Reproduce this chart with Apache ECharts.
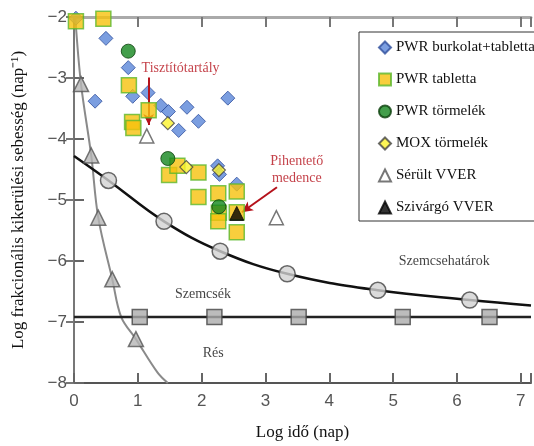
<!DOCTYPE html>
<html>
<head>
<meta charset="utf-8">
<script src="https://cdn.jsdelivr.net/npm/echarts@6/dist/echarts.min.js"></script>
<style>
  html, body { margin: 0; padding: 0; background: #fff; }
  #chart { width: 534px; height: 446px; }
</style>
</head>
<body>
<div id="chart"></div>
<script>
// Measured release points: [log time (days), log fractional release rate (1/day)]
const pwrCladPellet = [
  [0.03, -2.02], [0.50, -2.35], [0.85, -2.83], [0.33, -3.38], [0.92, -3.30],
  [1.16, -3.24], [1.36, -3.45], [1.48, -3.55], [1.77, -3.48], [1.95, -3.71],
  [1.64, -3.86], [2.41, -3.33], [2.25, -4.44], [2.28, -4.58], [2.55, -4.74]
];
const pwrPellet = [
  [0.03, -2.07], [0.46, -2.03], [0.86, -3.12], [1.17, -3.53], [0.91, -3.72],
  [0.93, -3.82], [1.49, -4.59], [1.62, -4.44], [1.95, -4.55], [1.95, -4.95],
  [2.26, -4.89], [2.55, -4.86], [2.27, -5.21], [2.26, -5.35], [2.55, -5.20],
  [2.55, -5.53]
];
const pwrDebris = [[0.85, -2.56], [1.47, -4.32], [2.27, -5.11]];
const moxDebris = [[1.47, -3.74], [1.76, -4.46], [2.27, -4.51]];
const damagedVver = [[1.14, -3.95], [3.17, -5.29]];
const leakingVver = [[2.55, -5.22]];

// Model curves: gap (Rés), grains (Szemcsék), grain boundaries (Szemcsehatárok)
const gapCurve = [
  [0.02, -2.0], [0.11, -3.1], [0.27, -4.27], [0.38, -5.29], [0.60, -6.30],
  [0.74, -6.92], [0.97, -7.28], [1.31, -7.83], [1.47, -8.0]
];
const gapMarkers = [[0.11, -3.1], [0.27, -4.27], [0.38, -5.29], [0.60, -6.30], [0.97, -7.28]];

const boundaryCurve = [
  [0.0, -4.28], [0.54, -4.68], [1.41, -5.35], [2.29, -5.84], [3.34, -6.21],
  [4.76, -6.48], [6.20, -6.64], [7.16, -6.73]
];
const boundaryMarkers = [[0.54, -4.68], [1.41, -5.35], [2.29, -5.84], [3.34, -6.21], [4.76, -6.48], [6.20, -6.64]];

const grainLevel = -6.92;
const grainLine = [[0.0, grainLevel], [7.16, grainLevel]];
const grainMarkers = [[1.03, grainLevel], [2.20, grainLevel], [3.52, grainLevel], [5.15, grainLevel], [6.51, grainLevel]];

// Region labels and callouts
const regionLabels = [
  { name: 'Szemcsék', value: [2.02, -6.55] },
  { name: 'Rés', value: [2.18, -7.52] },
  { name: 'Szemcsehatárok', value: [5.80, -6.00] }
];
const calloutLabels = [
  { name: 'Tisztítótartály', value: [1.67, -2.84] },
  { name: 'Pihentető\nmedence', value: [3.49, -4.50] }
];
const calloutArrows = [
  [[1.17, -2.99], [1.17, -3.77]],
  [[3.18, -4.79], [2.63, -5.20]]
];

const xTicks = { min: 0, max: 7.16, interval: 1 };
const yTicks = { min: -8, max: -2, interval: 1 };

const serif = 'Liberation Serif';
const sans = 'Liberation Sans';
const red = '#b5121b';

function fmt(v) {
  if (Math.abs(v - Math.round(v)) > 1e-6) return '';
  return v < 0 ? '\u2212' + Math.abs(v) : String(v);
}

const chart = echarts.init(document.getElementById('chart'));

const baseX = {
  type: 'value', min: xTicks.min, max: xTicks.max, interval: xTicks.interval,
  splitLine: { show: false }
};
const baseY = {
  type: 'value', min: yTicks.min, max: yTicks.max, interval: yTicks.interval,
  splitLine: { show: false }
};

const option = {
  animation: false,
  backgroundColor: '#fff',
  grid: { left: 74, right: 0, top: 17, bottom: 52 },
  xAxis: [
    Object.assign({}, baseX, {
      position: 'bottom',
      axisLine: { show: true, lineStyle: { color: '#555', width: 2 } },
      axisTick: { inside: true, length: 10, lineStyle: { color: '#666', width: 2 } },
      axisLabel: { color: '#555', fontFamily: sans, fontSize: 17, margin: 10, formatter: fmt },
      name: 'Log idő (nap)', nameLocation: 'middle', nameGap: 41,
      nameTextStyle: { fontFamily: serif, fontSize: 17, color: '#111' }
    }),
    Object.assign({}, baseX, {
      position: 'top',
      axisLine: { show: true, lineStyle: { color: '#aaa', width: 3 } },
      axisTick: { inside: true, length: 10, lineStyle: { color: '#777', width: 2 } },
      axisLabel: { show: false }
    })
  ],
  yAxis: [
    Object.assign({}, baseY, {
      position: 'left',
      axisLine: { show: true, lineStyle: { color: '#555', width: 2 } },
      axisTick: { inside: true, length: 10, lineStyle: { color: '#666', width: 2 } },
      axisLabel: { color: '#555', fontFamily: sans, fontSize: 17, margin: 7, formatter: fmt },
      name: 'Log frakcionális kikerülési sebesség (nap\u207B\u00B9)',
      nameLocation: 'middle', nameGap: 47, nameRotate: 90,
      nameTextStyle: { fontFamily: serif, fontSize: 17, color: '#111' }
    }),
    Object.assign({}, baseY, {
      position: 'right',
      axisLine: { show: true, lineStyle: { color: '#777', width: 2 } },
      axisTick: { inside: true, length: 8, lineStyle: { color: '#777', width: 2 } },
      axisLabel: { show: false }
    })
  ],
  legend: {
    data: ['PWR burkolat+tabletta', 'PWR tabletta', 'PWR törmelék', 'MOX törmelék', 'Sérült VVER', 'Szivárgó VVER'],
    orient: 'vertical',
    left: 359, top: 32,
    padding: [8, 10, 6, 19],
    itemWidth: 12, itemHeight: 12, itemGap: 17,
    borderColor: '#333', borderWidth: 1,
    backgroundColor: '#fff',
    textStyle: { fontFamily: serif, fontSize: 15, color: '#111' }
  },
  series: [
    {
      name: 'gap', type: 'line', data: gapCurve, smooth: 0.35, showSymbol: false,
      lineStyle: { color: '#8a8a8a', width: 2 }, silent: true, z: 2
    },
    {
      name: 'gapMarks', type: 'scatter', data: gapMarkers, symbol: 'triangle', symbolSize: 15,
      itemStyle: { color: '#b5b5b5', borderColor: '#555', borderWidth: 1.5 }, silent: true, z: 3
    },
    {
      name: 'grain', type: 'line', data: grainLine, showSymbol: false,
      lineStyle: { color: '#222', width: 2.5 }, silent: true, z: 2
    },
    {
      name: 'grainMarks', type: 'scatter', data: grainMarkers, symbol: 'rect', symbolSize: 15,
      itemStyle: { color: '#ababab', borderColor: '#444', borderWidth: 1.5 }, silent: true, z: 3
    },
    {
      name: 'boundary', type: 'line', data: boundaryCurve, smooth: 0.4, showSymbol: false,
      lineStyle: { color: '#111', width: 2.5 }, silent: true, z: 2
    },
    {
      name: 'boundaryMarks', type: 'scatter', data: boundaryMarkers, symbol: 'circle', symbolSize: 16,
      itemStyle: { color: '#d2d2d2', borderColor: '#444', borderWidth: 1.5 }, silent: true, z: 3
    },
    {
      name: 'PWR burkolat+tabletta', type: 'scatter', data: pwrCladPellet, symbol: 'diamond', symbolSize: 14,
      itemStyle: { color: '#5a86d8', borderColor: '#2f4f9c', borderWidth: 1 }, z: 4
    },
    {
      name: 'PWR tabletta', type: 'scatter', data: pwrPellet, symbol: 'rect', symbolSize: 15,
      itemStyle: { color: '#f6c20c', borderColor: '#5cb82e', borderWidth: 1.5 }, z: 5
    },
    {
      name: 'PWR törmelék', type: 'scatter', data: pwrDebris, symbol: 'circle', symbolSize: 14,
      itemStyle: { color: '#14861e', borderColor: '#0b3f0b', borderWidth: 1 }, z: 6
    },
    {
      name: 'MOX törmelék', type: 'scatter', data: moxDebris, symbol: 'diamond', symbolSize: 13,
      itemStyle: { color: '#fbf22c', borderColor: '#444', borderWidth: 1.2 }, z: 6
    },
    {
      name: 'Sérült VVER', type: 'scatter', data: damagedVver, symbol: 'triangle', symbolSize: 14,
      itemStyle: { color: '#fff', borderColor: '#555', borderWidth: 1.5 }, z: 6
    },
    {
      name: 'Szivárgó VVER', type: 'scatter', data: leakingVver, symbol: 'triangle', symbolSize: 14,
      itemStyle: { color: '#000', borderColor: '#000', borderWidth: 1 }, z: 7
    },
    {
      name: 'regions', type: 'scatter', data: regionLabels, symbolSize: 0, silent: true, z: 8,
      label: {
        show: true, position: 'inside', formatter: p => p.name,
        fontFamily: serif, fontSize: 14, color: '#111'
      }
    },
    {
      name: 'callouts', type: 'scatter', data: calloutLabels, symbolSize: 0, silent: true, z: 8,
      label: {
        show: true, position: 'inside', formatter: p => p.name,
        fontFamily: serif, fontSize: 14, color: red, lineHeight: 17, align: 'center'
      },
      markLine: {
        silent: true, symbol: ['none', 'arrow'], symbolSize: [8, 11],
        lineStyle: { color: red, width: 2, type: 'solid' },
        label: { show: false },
        data: calloutArrows.map(a => [{ coord: a[0] }, { coord: a[1] }])
      }
    }
  ]
};

chart.setOption(option);
</script>
</body>
</html>
